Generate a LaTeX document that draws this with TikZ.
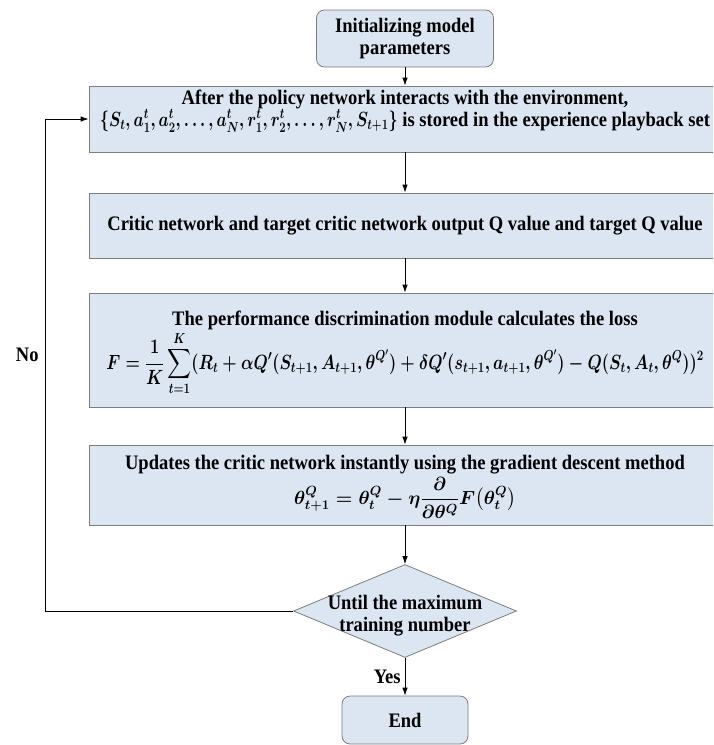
\RequirePackage{fix-cm}
\documentclass[tikz,border=0pt]{standalone}
\usepackage{fontspec}
\setmainfont{Liberation Serif}[FakeStretch=0.9]
\usepackage{amsmath}
\usepackage{graphicx}
\usetikzlibrary{arrows.meta,shapes.geometric}
\definecolor{boxblue}{RGB}{220,230,243}
\definecolor{boxedge}{RGB}{125,125,125}

\begin{document}
\begin{tikzpicture}[x=1pt, y=-1pt,
    stepbox/.style={draw=boxedge, fill=boxblue, line width=0.8pt, inner sep=0pt, minimum width=632pt},
    roundbox/.style={stepbox, rounded corners=8pt},
    txt/.style={font=\fontsize{20.6}{22}\selectfont\bfseries\boldmath, align=center, inner sep=0pt},
    flow/.style={-{Latex[length=8pt,width=5.5pt]}, line width=0.8pt}]

\useasboundingbox (0,0) rectangle (713,745);
\clip (0,0) rectangle (713,745);

% start
\node [roundbox, txt, minimum width=177pt, minimum height=57pt] (init) at (405,38.5) {Initializing model\\parameters};

% experience playback set
\node [stepbox, minimum height=66pt] (policy) at (405,119) {};
\node [txt] (policyT) at (405,111) {After the policy network interacts with the environment,\\
    \scalebox{0.78}[1]{$\{S_t, a^t_1, a^t_2, \dots, a^t_N, r^t_1, r^t_2, \dots, r^t_N, S_{t+1}\}$} is stored in the experience playback set};

% critic output
\node [stepbox, txt, minimum height=65pt] (critic) at (405,225.5) {Critic network and target critic network output Q value and target Q value};

% loss
\node [stepbox, minimum height=114pt] (loss) at (405,350) {};
\node [txt] (lossT) at (405,353) {The performance discrimination module calculates the loss\\[1pt]
    \scalebox{0.8}[1]{$\displaystyle F=\frac{1}{K}\sum_{t=1}^{K}(R_t+\alpha Q'(S_{t+1},A_{t+1},\theta^{Q'})+\delta Q'(s_{t+1},a_{t+1},\theta^{Q'})-Q(S_t,A_t,\theta^{Q}))^2$}};

% gradient descent
\node [stepbox, minimum height=80pt] (update) at (405,485) {};
\node [txt] (updateT) at (405,487) {Updates the critic network instantly using the gradient descent method\\[2pt]
    \scalebox{0.92}{$\displaystyle \theta^{Q}_{t+1}=\theta^{Q}_{t}-\eta\frac{\partial}{\partial\theta^{Q}}F\big(\theta^{Q}_{t}\big)$}};

% stop condition
\node [diamond, draw=boxedge, fill=boxblue, line width=0.8pt, inner sep=0pt, minimum width=223pt, minimum height=93pt] (cond) at (405,611) {};
\node [txt] (condT) at (405,616) {Until the maximum\\training number};

\node [roundbox, txt, minimum width=126pt, minimum height=48pt] (end) at (405,720) {End};

\foreach \a/\b in {init/policy, policy/critic, critic/loss, loss/update, update/cond}
    \draw [flow] (\a) -- (\b);

\draw [flow] (cond) -- node [txt, left, inner sep=4pt] {Yes} (end);

\coordinate (back) at (45,611);
\draw [flow] (cond.west) -- (back) |- node [txt, left, pos=0.26, inner sep=6pt] {No} (policy.west);

\end{tikzpicture}
\end{document}
